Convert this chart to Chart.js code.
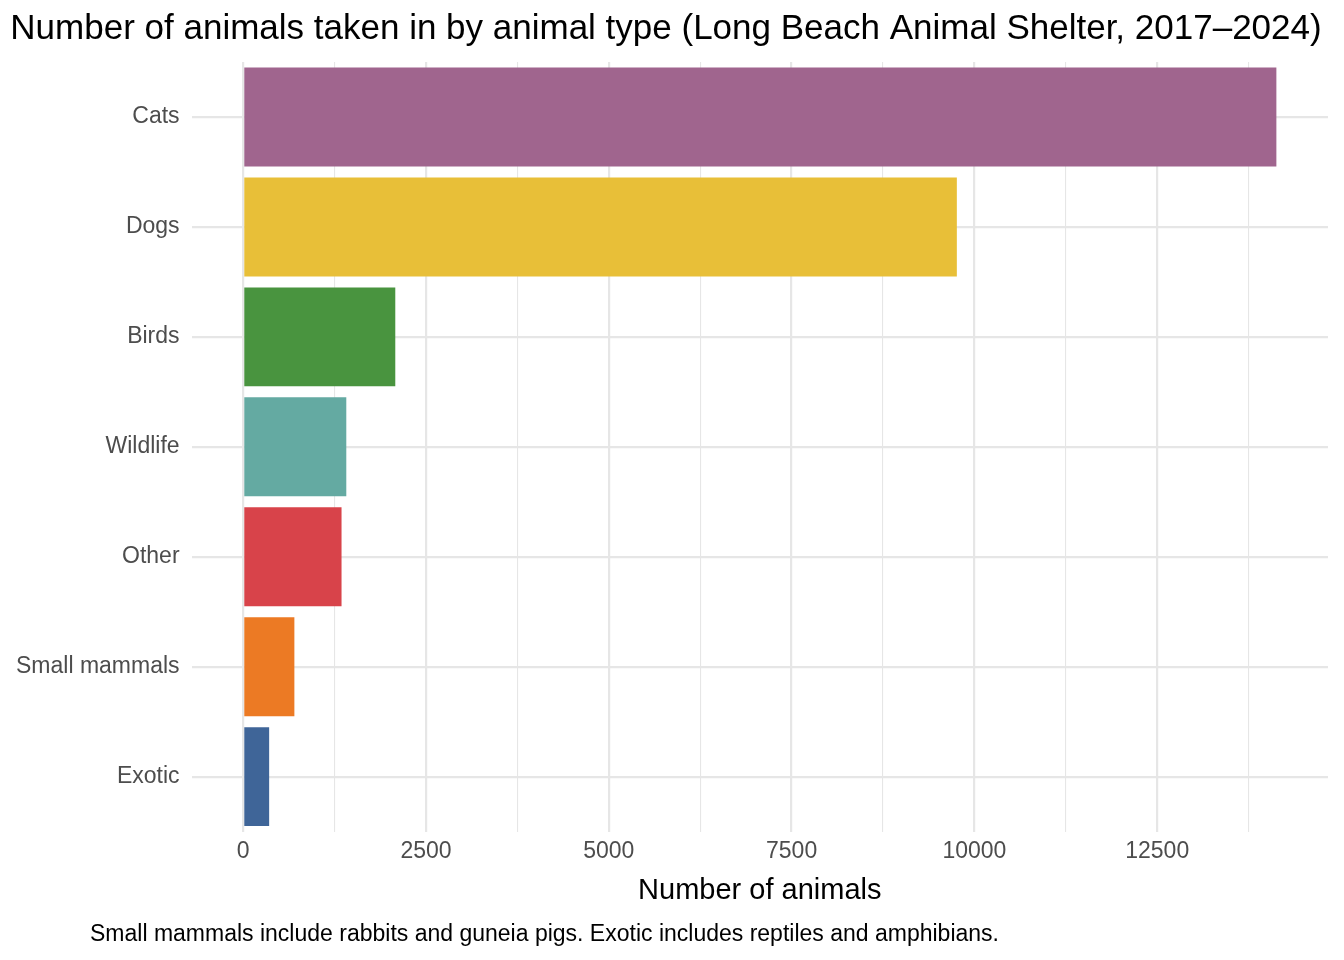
<!DOCTYPE html>
<html><head><meta charset="utf-8">
<script src="https://cdn.jsdelivr.net/npm/chart.js@4/dist/chart.umd.min.js"></script>
<style>
html,body{margin:0;padding:0;background:#fff;}
#wrap{position:relative;width:1344px;height:960px;}
#cap{position:absolute;left:90px;top:920px;font:23px "Liberation Sans",Arial,sans-serif;color:#000;white-space:nowrap;}
</style></head><body>
<div id="wrap"><canvas id="c" width="1344" height="960"></canvas>
<div id="cap">Small mammals include rabbits and guneia pigs. Exotic includes reptiles and amphibians.</div></div>
<script>
const categories = ["Cats","Dogs","Birds","Wildlife","Other","Small mammals","Exotic"];
const values = [14130, 9760, 2080, 1410, 1345, 700, 355];
const colors = ["#A0658E","#E8BF38","#49943F","#64AAA2","#D8434A","#EC7A24","#3F6598"];
const xMin = -706, xMax = 14836;
const xTicks = [0,2500,5000,7500,10000,12500];

Chart.defaults.font.family = '"Liberation Sans", Arial, sans-serif';
new Chart(document.getElementById('c'), {
  type: 'bar',
  data: { labels: categories, datasets: [{ data: values, backgroundColor: colors, barPercentage: 0.9, categoryPercentage: 1 }] },
  options: {
    indexAxis: 'y', responsive: false, animation: false,
    layout: { padding: { left: 4, right: 16, top: 0, bottom: 52 } },
    plugins: {
      legend: { display: false }, tooltip: { enabled: false },
      title: { display: true, text: 'Number of animals taken in by animal type (Long Beach Animal Shelter, 2017–2024)',
        color: '#000', font: { size: 35, weight: 'normal' }, padding: { top: 8, bottom: 12 } }
    },
    scales: {
      x: {
        min: xMin, max: xMax,
        afterBuildTicks: ax => { const t=[]; for (let v=0; v<=xMax; v+=1250) t.push({value:v}); ax.ticks = t; },
        ticks: { color: '#4d4d4d', font: { size: 23 }, padding: 6, maxRotation: 0, autoSkip: false,
          callback: v => xTicks.includes(v) ? String(v) : '' },
        grid: { color: '#e6e6e6', lineWidth: ctx => (ctx.tick && ctx.tick.value % 2500 === 0) ? 2.2 : 1.1, drawTicks: false },
        border: { display: false },
        title: { display: true, text: 'Number of animals', color: '#000', font: { size: 29 }, padding: { top: 2, bottom: 0 } }
      },
      y: {
        ticks: { color: '#4d4d4d', font: { size: 23 }, padding: 12 },
        grid: { color: '#e6e6e6', lineWidth: 2.2, offset: false, drawTicks: false },
        border: { display: false }
      }
    }
  }
});
</script></body></html>
